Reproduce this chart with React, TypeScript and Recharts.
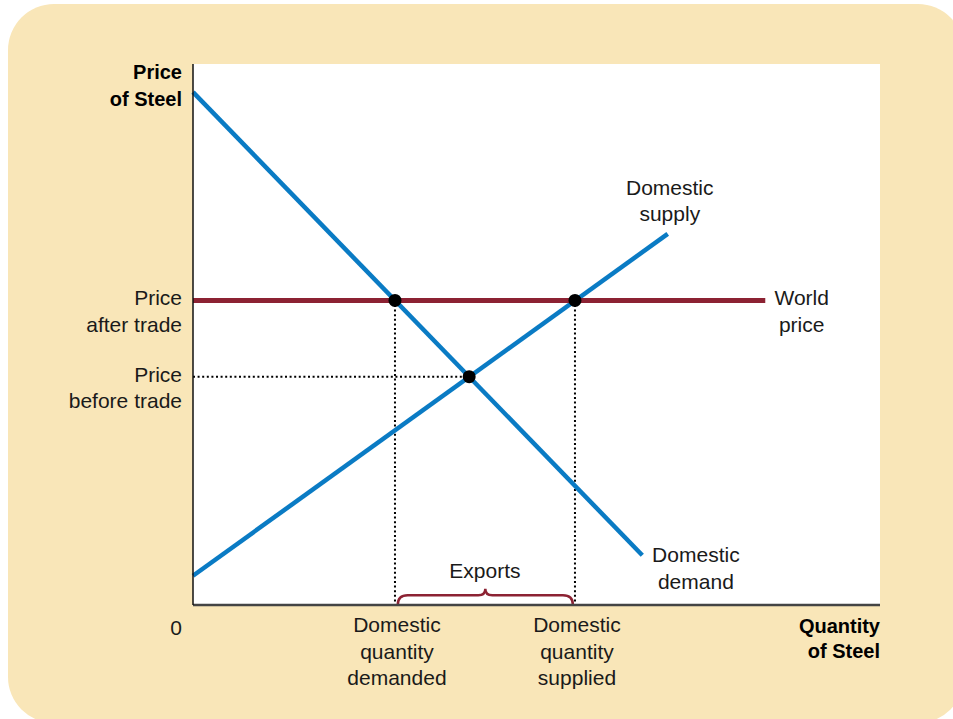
import React from 'react'
import {
  ComposedChart,
  Line,
  Scatter,
  XAxis,
  YAxis,
  CartesianGrid,
  ReferenceArea,
  Label,
} from 'recharts'

// market lines, quantity 0-100 on x, price 0-100 on y
const demandLine = [
  { q: 0, p: 94.8 },
  { q: 65.4, p: 9.2 },
]
const supplyLine = [
  { q: 0, p: 5.4 },
  { q: 69.1, p: 68.6 },
]
const worldPriceLine = [
  { q: 0, p: 56.3 },
  { q: 83.3, p: 56.3 },
]

// intersections
const keyPoints = [
  { q: 29.4, p: 56.3 },
  { q: 55.6, p: 56.3 },
  { q: 40.2, p: 42.2 },
]

// dotted guides
const guideDemanded = [
  { q: 29.4, p: 56.3 },
  { q: 29.4, p: 0 },
]
const guideSupplied = [
  { q: 55.6, p: 56.3 },
  { q: 55.6, p: 0 },
]
const guideBeforeTrade = [
  { q: 0, p: 42.2 },
  { q: 40.2, p: 42.2 },
]

const yTicks = [42.2, 56.3]
const yTickLabels: Record<number, string[]> = {
  56.3: ['Price', 'after trade'],
  42.2: ['Price', 'before trade'],
}
const xTicks = [0, 29.4, 55.6]
const xTickLabels: Record<number, string[]> = {
  0: ['0'],
  29.4: ['Domestic', 'quantity', 'demanded'],
  55.6: ['Domestic', 'quantity', 'supplied'],
}

const notes = [
  { q: 69.4, p: 75.8, lines: ['Domestic', 'supply'] },
  { q: 88.6, p: 55.4, lines: ['World', 'price'] },
  { q: 73.2, p: 7.9, lines: ['Domestic', 'demand'] },
  { q: 42.5, p: 5.0, lines: ['Exports'] },
]

const FONT = '"Liberation Sans", Arial, sans-serif'
const BLUE = '#0A7BC4'
const MAROON = '#8C2233'
const INK = '#1a1a1a'

const YTick = (props: any) => {
  const { x, y, payload } = props
  const lines = yTickLabels[payload.value] || []
  return (
    <g>
      {lines.map((t, i) => (
        <text key={i} x={x - 11} y={y + 5 + i * 26.5} textAnchor="end" fontSize={21} fill={INK} fontFamily={FONT}>
          {t}
        </text>
      ))}
    </g>
  )
}

const XTick = (props: any) => {
  const { x, y, payload } = props
  const lines = xTickLabels[payload.value] || []
  if (payload.value === 0) {
    return (
      <text x={x - 17} y={y + 30} textAnchor="middle" fontSize={21} fill={INK} fontFamily={FONT}>
        0
      </text>
    )
  }
  return (
    <g>
      {lines.map((t, i) => (
        <text key={i} x={x + 2} y={y + 27 + i * 26.5} textAnchor="middle" fontSize={21} fill={INK} fontFamily={FONT}>
          {t}
        </text>
      ))}
    </g>
  )
}

const NoteShape = (props: any) => {
  const { cx, cy, payload } = props
  return (
    <g>
      {payload.lines.map((t: string, i: number) => (
        <text key={i} x={cx} y={cy + i * 26.5} textAnchor="middle" fontSize={21} fill={INK} fontFamily={FONT}>
          {t}
        </text>
      ))}
    </g>
  )
}

const DotShape = (props: any) => <circle cx={props.cx} cy={props.cy} r={6.5} fill="#000" />

const Brace = (props: any) => {
  const { x, y, width, height } = props
  const bottom = y + height
  const mid = x + width / 2
  const flat = y + height * 0.4
  const r = 5
  const d = [
    `M ${x} ${bottom}`,
    `Q ${x} ${flat} ${x + r * 2} ${flat}`,
    `L ${mid - r * 1.4} ${flat}`,
    `Q ${mid} ${flat} ${mid} ${y}`,
    `Q ${mid} ${flat} ${mid + r * 1.4} ${flat}`,
    `L ${x + width - r * 2} ${flat}`,
    `Q ${x + width} ${flat} ${x + width} ${bottom}`,
  ].join(' ')
  return <path d={d} fill="none" stroke={MAROON} strokeWidth={2.5} />
}

export default function App() {
  return (
    <div style={{ position: 'fixed', left: 0, top: 0, width: 953, height: 719, overflow: 'hidden', background: '#fff' }}>
      <div
        style={{
          position: 'absolute',
          left: 8,
          top: 4,
          width: 956,
          height: 719,
          borderRadius: 46,
          background: '#F9E6B8',
        }}
      />
      <div style={{ position: 'absolute', left: 0, top: 0 }}>
        <ComposedChart width={953} height={719} margin={{ top: 64, right: 73, bottom: 0, left: 0 }}>
          <CartesianGrid horizontal={false} vertical={false} fill="#fff" stroke="none" />
          <XAxis
            type="number"
            dataKey="q"
            domain={[0, 100]}
            ticks={xTicks}
            interval={0}
            height={114}
            tickSize={0}
            tickMargin={0}
            tickLine={false}
            axisLine={{ stroke: '#444', strokeWidth: 2.5 }}
            tick={<XTick />}
          >
            <Label
              content={(p: any) => {
                const vb = p.viewBox
                return (
                  <g>
                    <text x={vb.x + vb.width} y={vb.y + 28} textAnchor="end" fontSize={20} fontWeight="bold" fill="#000" fontFamily={FONT}>
                      Quantity
                    </text>
                    <text x={vb.x + vb.width} y={vb.y + 53} textAnchor="end" fontSize={20} fontWeight="bold" fill="#000" fontFamily={FONT}>
                      of Steel
                    </text>
                  </g>
                )
              }}
            />
          </XAxis>
          <YAxis
            type="number"
            dataKey="p"
            domain={[0, 100]}
            ticks={yTicks}
            interval={0}
            width={193}
            tickSize={0}
            tickMargin={0}
            tickLine={false}
            axisLine={{ stroke: '#111', strokeWidth: 1.5 }}
            tick={<YTick />}
          >
            <Label
              content={(p: any) => {
                const vb = p.viewBox
                return (
                  <g>
                    <text x={vb.x + vb.width - 11} y={vb.y + 15} textAnchor="end" fontSize={20} fontWeight="bold" fill="#000" fontFamily={FONT}>
                      Price
                    </text>
                    <text x={vb.x + vb.width - 11} y={vb.y + 42} textAnchor="end" fontSize={20} fontWeight="bold" fill="#000" fontFamily={FONT}>
                      of Steel
                    </text>
                  </g>
                )
              }}
            />
          </YAxis>

          <ReferenceArea x1={29.8} x2={55.3} y1={0} y2={3.0} shape={<Brace />} />

          <Line data={guideDemanded} dataKey="p" stroke="#000" strokeWidth={2} strokeDasharray="2 2.6" dot={false} isAnimationActive={false} />
          <Line data={guideSupplied} dataKey="p" stroke="#000" strokeWidth={2} strokeDasharray="2 2.6" dot={false} isAnimationActive={false} />
          <Line data={guideBeforeTrade} dataKey="p" stroke="#000" strokeWidth={2} strokeDasharray="2 2.6" dot={false} isAnimationActive={false} />

          <Line data={demandLine} dataKey="p" type="linear" stroke={BLUE} strokeWidth={4.5} dot={false} isAnimationActive={false} />
          <Line data={supplyLine} dataKey="p" type="linear" stroke={BLUE} strokeWidth={4.5} dot={false} isAnimationActive={false} />
          <Line data={worldPriceLine} dataKey="p" type="linear" stroke={MAROON} strokeWidth={5} dot={false} isAnimationActive={false} />

          <Scatter data={keyPoints} dataKey="p" shape={<DotShape />} isAnimationActive={false} />
          <Scatter data={notes} dataKey="p" shape={<NoteShape />} isAnimationActive={false} />
        </ComposedChart>
      </div>
    </div>
  )
}
